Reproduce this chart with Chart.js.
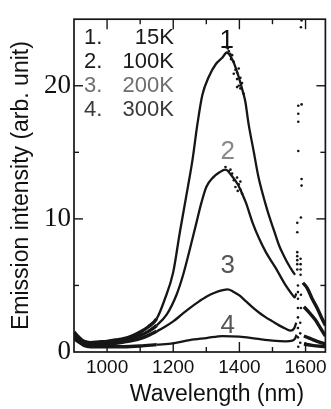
<!DOCTYPE html>
<html>
<head>
<meta charset="utf-8">
<script src="https://cdn.jsdelivr.net/npm/chart.js@4"></script>
<style>
html,body{margin:0;padding:0;background:#fff;}
canvas{display:block;}
</style>
</head>
<body>
<canvas id="c" width="331" height="409"></canvas>
<script>
// ---- data ----
const legendNums = ['1.', '2.', '3.', '4.'];
const legendTemps = ['15K', '100K', '200K', '300K'];
const curveNames = ['1', '2', '3', '4'];

const xTickLabels = [1000, 1200, 1400, 1600];
const xMinorTicks = [1100, 1300, 1500];
const yTickLabels = [0, 10, 20];
const yMinorTicks = [5, 15];

// curve 1 (15K)
const wl1 = [900,915,930,950,975,1000,1025,1050,1075,1100,1125,1150,1175,1200,1220,1245,1258,1273,1288,1308,1328,1348,1362,1380,1395,1410,1418,1428,1443,1458,1478,1490,1505,1520,1535,1550,1560,1568,1580,1592,1605,1620,1635,1650,1660];
const in1 = [1.5,1.1,0.8,0.7,0.75,0.8,0.9,1.0,1.2,1.5,1.9,2.5,4.0,6.0,9.0,12.5,14.4,17.1,19.3,20.7,21.6,22.1,22.5,21.9,20.9,19.6,18.8,17.1,15.1,13.1,11.2,10.2,9.1,8.0,7.2,6.5,6.1,5.8,null,5.2,4.8,4.0,3.3,2.5,2.0];
// curve 2 (100K)
const wl2 = [900,915,930,950,975,1000,1025,1050,1075,1100,1125,1150,1180,1210,1230,1250,1270,1285,1300,1320,1340,1358,1375,1395,1410,1420,1440,1460,1480,1510,1540,1560,1567,1572,1580,1595,1610,1630,1645,1660];
const in2 = [1.3,1.0,0.7,0.6,0.65,0.7,0.8,0.9,1.05,1.25,1.55,2.0,2.8,4.3,5.8,7.7,9.7,11.2,12.4,13.1,13.5,13.7,13.3,12.6,11.8,11.2,9.7,8.5,7.5,6.3,5.0,4.3,4.1,4.4,null,3.4,3.0,2.4,1.8,1.2];
// curve 3 (200K)
const wl3 = [900,915,930,950,975,1000,1025,1050,1075,1100,1125,1150,1175,1200,1225,1250,1275,1300,1325,1350,1365,1380,1400,1420,1440,1460,1480,1500,1520,1540,1555,1565,1572,1580,1595,1615,1635,1660];
const in3 = [1.2,0.9,0.6,0.5,0.55,0.6,0.65,0.75,0.85,1.0,1.25,1.55,1.9,2.3,2.8,3.3,3.75,4.15,4.45,4.65,4.7,4.55,4.25,3.8,3.35,2.95,2.6,2.3,2.0,1.75,1.6,1.75,2.2,null,1.2,1.0,0.8,0.6];
// curve 4 (300K)
const wl4 = [900,915,930,950,1000,1050,1100,1150,1200,1250,1300,1350,1400,1450,1500,1540,1560,1568,1573,1580,1595,1620,1660];
const in4 = [1.0,0.75,0.5,0.4,0.4,0.4,0.45,0.55,0.65,0.9,1.05,1.2,1.15,1.0,0.85,0.8,0.85,1.0,1.3,null,0.6,0.5,0.4];

// scattered dots near the peaks of curves 1 and 2
const noise1X = [1360,1365,1368,1372,1375,1378,1383,1383,1388,1393,1393,1393,1398,1398,1403,1403,1408,1413];
const noise1Y = [22.9,22.8,22.6,22.4,22.0,22.3,21.8,20.9,21.2,21.0,20.5,19.9,21.3,20.0,20.6,19.8,20.2,19.4];
const noise2X = [1358,1368,1373,1378,1383,1388,1393,1395,1398,1403,1403,1408];
const noise2Y = [13.9,13.6,13.7,13.4,12.9,12.4,13.1,12.1,12.6,12.2,12.8,11.9];
// vertical column of dots near 1580 nm
const spikeX = [1588,1586,1578,1588,1578,1578,1578,1588,1588,1586,1575,1575,1575,1575,1575,1575,1575,1585,1585,1585,1585,1577,1577,1586,1577,1586,1577,1577,1584,1577,1584,1577,1584,1578];
const spikeY = [24.9,24.4,18.5,18.6,17.9,17.3,15.1,13.0,12.5,10.1,9.7,9.0,7.5,7.2,6.9,6.6,6.2,7.0,6.6,6.2,5.8,5.0,4.5,4.3,4.0,3.3,3.3,2.6,2.2,1.8,1.4,1.1,0.7,0.4];

const toPts = (xs, ys) => xs.map((x, i) => ({x: x, y: ys[i]}));

const SANS = "'Liberation Sans', Arial, sans-serif";
const SERIF = "'Liberation Serif', 'Times New Roman', serif";
const INK = '#161616';

function lineDs(xs, ys) {
  return {
    data: toPts(xs, ys), showLine: true, borderColor: INK, borderWidth: 2.3,
    pointRadius: 0, cubicInterpolationMode: 'monotone', spanGaps: false,
    segment: {borderWidth: c => (c.p0.parsed.x < 1130 || c.p0.parsed.x > 1590) ? 3.4 : 2.3}
  };
}
function dotDs(xs, ys) {
  return {
    data: toPts(xs, ys), showLine: false, pointRadius: 1.3,
    pointBackgroundColor: INK, pointBorderWidth: 0
  };
}

const decor = {
  id: 'decor',
  afterDraw(chart) {
    const {ctx, chartArea: a, scales: {x, y}} = chart;
    ctx.save();
    ctx.strokeStyle = INK;
    ctx.lineWidth = 1.7;
    ctx.strokeRect(a.left, a.top, a.right - a.left, a.bottom - a.top);
    ctx.lineWidth = 1.4;
    const seg = (x1, y1, x2, y2) => { ctx.beginPath(); ctx.moveTo(x1, y1); ctx.lineTo(x2, y2); ctx.stroke(); };
    xTickLabels.concat(xMinorTicks).forEach(v => {
      const px = x.getPixelForValue(v);
      const L = xTickLabels.includes(v) ? 10 : 5;
      seg(px, a.bottom, px, a.bottom - L);
      seg(px, a.top, px, a.top + L);
    });
    yTickLabels.concat(yMinorTicks).forEach(v => {
      if (v === 0) return;
      const py = y.getPixelForValue(v);
      const L = yTickLabels.includes(v) ? 9 : 5;
      seg(a.left, py, a.left + L, py);
      seg(a.right, py, a.right - L, py);
    });
    // legend block
    const legColors = ['#1a1a1a', '#1a1a1a', '#6e6e6e', '#3a3a3a'];
    ctx.font = '22px ' + SANS;
    ctx.textBaseline = 'middle';
    legendNums.forEach((n, i) => {
      const yy = 37.5 + 24.3 * i;
      ctx.fillStyle = legColors[i];
      ctx.textAlign = 'left';
      ctx.fillText(n, 84, yy);
      ctx.textAlign = 'right';
      ctx.fillText(legendTemps[i], 174, yy);
    });
    // curve labels
    const labPos = [[1362, 23.4], [1365, 15.0], [1365, 6.5], [1365, 1.95]];
    const labCol = ['#111', '#888', '#555', '#555'];
    ctx.font = '26px ' + SANS;
    ctx.textAlign = 'center';
    curveNames.forEach((t, i) => {
      ctx.fillStyle = labCol[i];
      ctx.fillText(t, x.getPixelForValue(labPos[i][0]), y.getPixelForValue(labPos[i][1]));
    });
    // x axis title
    ctx.fillStyle = '#111';
    ctx.font = '23px ' + SANS;
    ctx.fillText('Wavelength (nm)', 217, 395);
    ctx.restore();
  }
};

new Chart(document.getElementById('c'), {
  type: 'scatter',
  data: {
    datasets: [
      lineDs(wl1, in1), lineDs(wl2, in2), lineDs(wl3, in3), lineDs(wl4, in4),
      dotDs(noise1X, noise1Y), dotDs(noise2X, noise2Y), dotDs(spikeX, spikeY)
    ]
  },
  options: {
    responsive: false,
    animation: false,
    devicePixelRatio: 1,
    layout: {padding: {top: 12, right: 4, left: 0, bottom: 0}},
    plugins: {legend: {display: false}, tooltip: {enabled: false}},
    scales: {
      x: {
        type: 'linear', min: 900, max: 1660,
        grid: {display: false, drawTicks: false},
        border: {display: false},
        afterBuildTicks: s => { s.ticks = xTickLabels.map(v => ({value: v})); },
        ticks: {
          autoSkip: false, maxRotation: 0, padding: 4,
          color: '#111', font: {family: SANS, size: 19},
          callback: v => String(v)
        },
        afterFit: s => { s.height = 57; }
      },
      y: {
        type: 'linear', min: 0, max: 25,
        grid: {display: false, drawTicks: false},
        border: {display: false},
        afterBuildTicks: s => { s.ticks = yTickLabels.map(v => ({value: v})); },
        ticks: {
          autoSkip: false, padding: 3,
          color: '#111', font: {family: SERIF, size: 27},
          callback: v => String(v)
        },
        title: {
          display: true, text: 'Emission intensity (arb. unit)',
          color: '#111', font: {family: SANS, size: 23, lineHeight: 1},
          padding: {top: 10, bottom: 0}
        },
        afterFit: s => { s.width = 74; }
      }
    }
  },
  plugins: [decor]
});
</script>
</body>
</html>
